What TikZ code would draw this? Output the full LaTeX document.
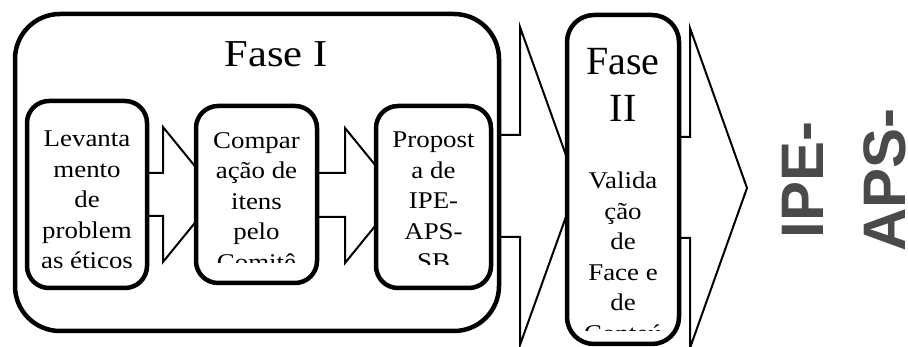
\documentclass[tikz,border=0pt]{standalone}
\usepackage{fontspec}
\setmainfont{Liberation Serif}
\newfontfamily\boxfont[FakeStretch=1.12]{Liberation Serif}
\newfontfamily\resultfont{Liberation Sans}
\usepackage{tikz}
\definecolor{resultgray}{HTML}{4A4A4A}

\tikzset{
  phasebox/.style={draw,line width=4.5pt,fill=white,inner sep=0pt},
  stepbox/.style={phasebox,rounded corners=22pt},
  blockarrow/.style={draw,line width=2pt,fill=white,line join=miter},
  steptext/.style={anchor=north,align=center,inner sep=0pt,
                   font=\boxfont\fontsize{24}{30.5}\selectfont}
}

\begin{document}
\begin{tikzpicture}[x=1pt,y=-1pt]
    \useasboundingbox (0,0) rectangle (908,347);
    \clip (0,0) rectangle (908,347);

    % big arrows leaving each phase
    \draw[blockarrow] (499,135) -- (520,135) -- (520,27) -- (577,186)
         -- (520,345) -- (520,237) -- (499,237);
    \draw[blockarrow] (679,137) -- (690,137) -- (690,28) -- (747,188)
         -- (690,348) -- (690,238) -- (679,238);

    % phase I
    \node[phasebox,rounded corners=45pt,minimum width=484pt,
          minimum height=317pt] (fase1) at (257,172.5) {};
    \node[anchor=base,inner sep=0pt,font=\boxfont\fontsize{38}{44}\selectfont]
         (fase1label) at (276,67) {Fase I};

    \draw[blockarrow] (147,173) -- (163,173) -- (163,127) -- (218,194.5)
         -- (163,262) -- (163,216) -- (147,216);
    \draw[blockarrow] (317,173) -- (345,173) -- (345,128) -- (400,195.5)
         -- (345,263) -- (345,217) -- (317,217);

    \node[stepbox,minimum width=120pt,minimum height=187pt] (lev) at (87,194.5) {};
    \node[steptext] (levtext) at (87,131) {Levanta\\mento\\de\\problem\\as éticos};

    \node[stepbox,minimum width=121pt,minimum height=177pt] (comp) at (256.5,194.5) {};
    \begin{scope}
        \clip (196,106) rectangle (317,263);
        \node[steptext] (comptext) at (256.5,132)
             {Compar\\ação de\\itens\\pelo\\Comitê};
    \end{scope}

    \node[stepbox,minimum width=115pt,minimum height=182pt] (prop) at (433.5,197) {};
    \begin{scope}
        \clip (376,106) rectangle (491,265);
        \node[steptext] (proptext) at (433.5,132)
             {Propost\\a de\\IPE-\\APS-\\SB};
    \end{scope}

    % phase II
    \node[phasebox,rounded corners=27pt,minimum width=112pt,
          minimum height=329pt] (fase2) at (623,179.5) {};
    \begin{scope}
        \clip (567,15) rectangle (679,331);
        \node[anchor=north,align=center,inner sep=0pt,
              font=\fontsize{40}{47}\selectfont] (fase2label) at (623,48.5) {Fase\\II};
        \node[steptext] (fase2text) at (623,172)
             {Valida\\ção\\de\\Face e\\de\\Conteú};
    \end{scope}

    % result
    \node[rotate=90,align=center,inner sep=0pt,text=resultgray,
          font=\resultfont\bfseries\fontsize{60}{82}\selectfont]
         (result) at (844.5,180) {IPE-\\APS-};
\end{tikzpicture}
\end{document}
